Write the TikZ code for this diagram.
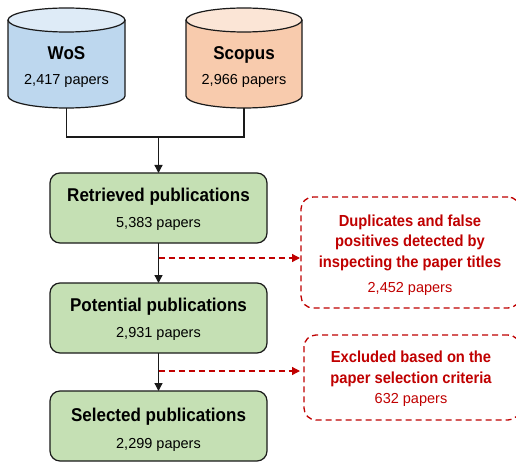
\documentclass[tikz,border=0pt]{standalone}
\usepackage{fontspec}
\setmainfont{Liberation Sans}
\newfontfamily\condf[FakeStretch=0.92]{Liberation Sans}
\usetikzlibrary{arrows.meta}
\definecolor{wosB}{HTML}{BDD7EE}
\definecolor{wosT}{HTML}{DEEBF7}
\definecolor{scoB}{HTML}{F8CBAD}
\definecolor{scoT}{HTML}{FBE5D6}
\definecolor{greenF}{HTML}{C5E0B4}
\definecolor{redC}{HTML}{C00000}
\definecolor{lineC}{HTML}{1A1A1A}
\tikzset{
  cylline/.style={draw=lineC, line width=1.2pt},
  gbox/.style={draw=lineC, line width=1.2pt, fill=greenF, rounded corners=10pt,
    minimum width=217pt, minimum height=70pt, inner sep=0pt, outer sep=0pt},
  rbox/.style={draw=redC, dash pattern=on 6pt off 4pt, line width=1.3pt,
    rounded corners=12pt, inner sep=0pt, outer sep=0pt},
  ttl/.style={anchor=base, inner sep=0pt, text=black,
    font=\condf\bfseries\fontsize{18.5}{20}\selectfont},
  cnt/.style={anchor=base, inner sep=0pt, text=black,
    font=\fontsize{14.5}{16}\selectfont},
  rttl/.style={anchor=base, inner sep=0pt, text=redC,
    font=\condf\bfseries\fontsize{16}{18}\selectfont},
  rcnt/.style={anchor=base, inner sep=0pt, text=redC,
    font=\fontsize{14.5}{16}\selectfont},
  conn/.style={draw=lineC, line width=1.3pt},
  arr/.style={conn, -{Triangle[length=8pt,width=8pt]}},
  rarr/.style={draw=redC, line width=1.3pt, dash pattern=on 6pt off 4pt,
    -{Triangle[length=8pt,width=8pt]}},
}
\begin{document}
\begin{tikzpicture}[x=1pt,y=-1pt]
\useasboundingbox (0,0) rectangle (516,462);
\clip (0,0) rectangle (516,462);
\fill[white] (0,0) rectangle (516,462);

% WoS cylinder
\fill[wosB] (8,20) -- (8,96) arc[start angle=180,end angle=0,x radius=58.5,y radius=12] -- (125,20) -- cycle;
\draw[cylline] (8,20) -- (8,96) arc[start angle=180,end angle=0,x radius=58.5,y radius=12] -- (125,20);
\draw[cylline, fill=wosT] (66.5,20) ellipse [x radius=58.5, y radius=12];
\coordinate (wos-b) at (66.5,108);
\node[ttl] (wos-t) at (66.5,59.3) {WoS};
\node[cnt] (wos-n) at (66.5,85) {2,417 papers};

% Scopus cylinder
\fill[scoB] (186,20) -- (186,96) arc[start angle=180,end angle=0,x radius=58,y radius=12] -- (302,20) -- cycle;
\draw[cylline] (186,20) -- (186,96) arc[start angle=180,end angle=0,x radius=58,y radius=12] -- (302,20);
\draw[cylline, fill=scoT] (244,20) ellipse [x radius=58, y radius=12];
\coordinate (sco-b) at (244,108);
\node[ttl] (sco-t) at (244,59.3) {Scopus};
\node[cnt] (sco-n) at (244,85) {2,966 papers};

% green boxes
\node[gbox] (ret) at (158.5,208) {};
\node[ttl] (ret-t) at (158.5,201.7) {Retrieved publications};
\node[cnt] (ret-n) at (158.5,227.7) {5,383 papers};

\node[gbox] (pot) at (158.5,318) {};
\node[ttl] (pot-t) at (158.5,311.7) {Potential publications};
\node[cnt] (pot-n) at (158.5,337.3) {2,931 papers};

\node[gbox] (sel) at (158.5,426) {};
\node[ttl] (sel-t) at (158.5,421.7) {Selected publications};
\node[cnt] (sel-n) at (158.5,448.3) {2,299 papers};

% red dashed boxes
\node[rbox, minimum width=219pt, minimum height=111pt] (dup) at (410.5,252.5) {};
\node[rttl] (dup-1) at (410,226.7) {Duplicates and false};
\node[rttl] (dup-2) at (410,246.9) {positives detected by};
\node[rttl] (dup-3) at (410,267.3) {inspecting the paper titles};
\node[rcnt] (dup-n) at (410,292.7) {2,452 papers};

\node[rbox, minimum width=216pt, minimum height=85pt] (exc) at (412,377.5) {};
\node[rttl] (exc-1) at (411,362.3) {Excluded based on the};
\node[rttl] (exc-2) at (411,383.3) {paper selection criteria};
\node[rcnt] (exc-n) at (411,403.3) {632 papers};

% connectors
\coordinate (jn) at (158.5,137);
\draw[conn] (wos-b) |- (jn) -| (sco-b);
\draw[arr] (jn) -- (ret.north);
\draw[arr] (ret.south) -- (pot.north);
\draw[arr] (pot.south) -- (sel.north);

\coordinate (r1) at (158.5,258);
\coordinate (r2) at (158.5,371);
\draw[rarr] (r1) -- ([xshift=-1pt]dup.west |- r1);
\draw[rarr] (r2) -- ([xshift=-4pt]exc.west |- r2);
\end{tikzpicture}
\end{document}
